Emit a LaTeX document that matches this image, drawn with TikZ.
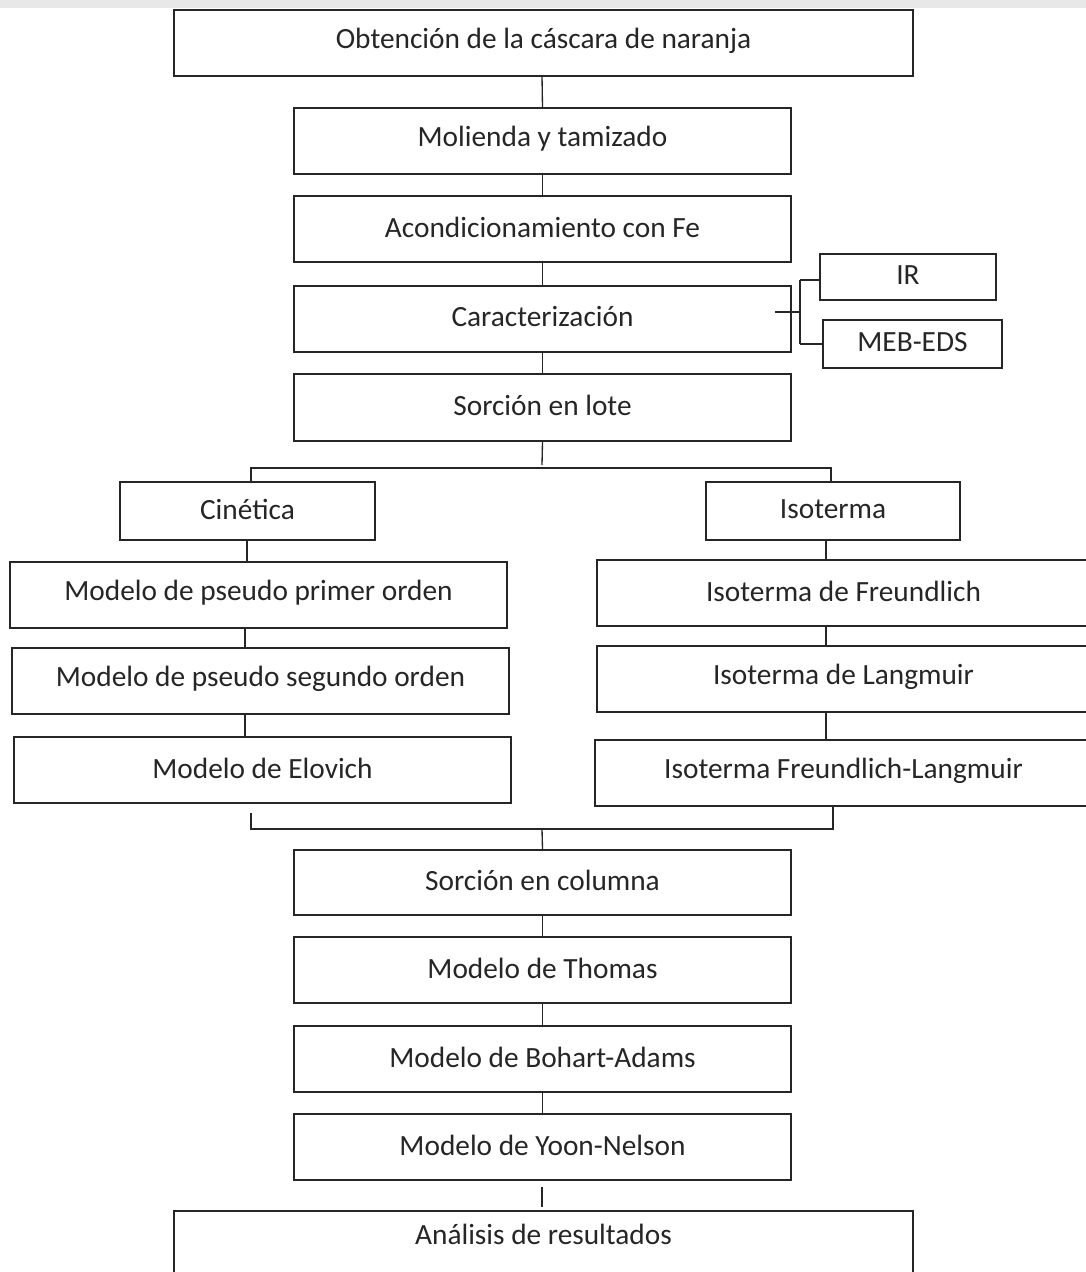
\documentclass[tikz,border=0pt]{standalone}
\usepackage{fontspec}
\setmainfont{Carlito}
\begin{document}
\begin{tikzpicture}[x=0.75pt,y=-0.75pt,
  box/.style={draw=black!85, line width=1.3pt, inner sep=0pt, font=\fontsize{22}{26}\selectfont, text=black!85},
  conn/.style={draw=black!85, line width=1pt}]
\clip (0,0) rectangle (1086,1272);
\fill[white] (0,0) rectangle (1086,1272);
\fill[black!9] (0,0) rectangle (1086,8);
\newcommand\mybox[6]{\node[box, minimum width={(#4-#2)*0.75pt}, minimum height={(#5-#3)*0.75pt}] (#1) at ({(#2+#4)/2},{(#3+#5)/2}) {\raisebox{1.5pt}[\height][\depth]{#6}};}
\mybox{b1}{174}{10}{913}{76}{Obtención de la cáscara de naranja}
\mybox{b2}{294}{108}{791}{174}{Molienda y tamizado}
\mybox{b3}{294}{196}{791}{262}{Acondicionamiento con Fe}
\mybox{b4}{294}{286}{791}{352}{Caracterización}
\mybox{ir}{820}{254}{996}{300}{IR}
\mybox{meb}{823}{320}{1002}{368}{MEB-EDS}
\mybox{b5}{294}{374}{791}{441}{Sorción en lote}
\mybox{cin}{120}{482}{375}{540}{Cinética}
\mybox{iso}{706}{482}{960}{540}{Isoterma}
\mybox{k1}{10}{562}{507}{628}{Modelo de pseudo primer orden}
\mybox{k2}{12}{648}{509}{714}{Modelo de pseudo segundo orden}
\mybox{k3}{14}{737}{511}{803}{Modelo de Elovich}
\mybox{i1}{597}{560}{1090}{626}{Isoterma de Freundlich}
\mybox{i2}{597}{646}{1090}{712}{Isoterma de Langmuir}
\mybox{i3}{595}{740}{1092}{806}{Isoterma Freundlich-Langmuir}
\mybox{c1}{294}{850}{791}{915}{Sorción en columna}
\mybox{c2}{294}{937}{791}{1003}{Modelo de Thomas}
\mybox{c3}{294}{1026}{791}{1092}{Modelo de Bohart-Adams}
\mybox{c4}{294}{1114}{791}{1180}{Modelo de Yoon-Nelson}
\mybox{c5}{174}{1211}{913}{1300}{\raisebox{14pt}[\height][\depth]{Análisis de resultados}}
% main chain
\draw[conn] (542,76) -- (b2.north);
\draw[conn] (b2.south) -- (b3.north);
\draw[conn] (b3.south) -- (b4.north);
\draw[conn] (b4.south) -- (b5.north);
% characterisation bracket
\coordinate (s0) at (775,312);
\coordinate (s1) at (800,312);
\draw[conn] (s0) -- (s1);
\draw[conn] (800,280) -- (ir.west |- 0,280);
\draw[conn] (800,344) -- (meb.west |- 0,344);
\draw[conn] (800,280) -- (800,344);
% split
\coordinate (sp) at (542,465);
\draw[conn] (b5.south) -- (sp);
\draw[conn] (251,482) -- (251,468) -- (831,468) -- (831,482);
% left column
\draw[conn] (247,540) -- (247,562);
\draw[conn] (245,628) -- (245,648);
\draw[conn] (245,714) -- (245,737);
% right column
\draw[conn] (826,540) -- (826,560);
\draw[conn] (826,626) -- (826,646);
\draw[conn] (826,712) -- (826,740);
% join
\draw[conn] (251,813) -- (251,829) -- (833,829) -- (833,806);
\draw[conn] (542,829) -- (c1.north);
% lower chain
\draw[conn] (c1.south) -- (c2.north);
\draw[conn] (c2.south) -- (c3.north);
\draw[conn] (c3.south) -- (c4.north);
\draw[conn] (542,1187) -- (542,1207);
\end{tikzpicture}
\end{document}
